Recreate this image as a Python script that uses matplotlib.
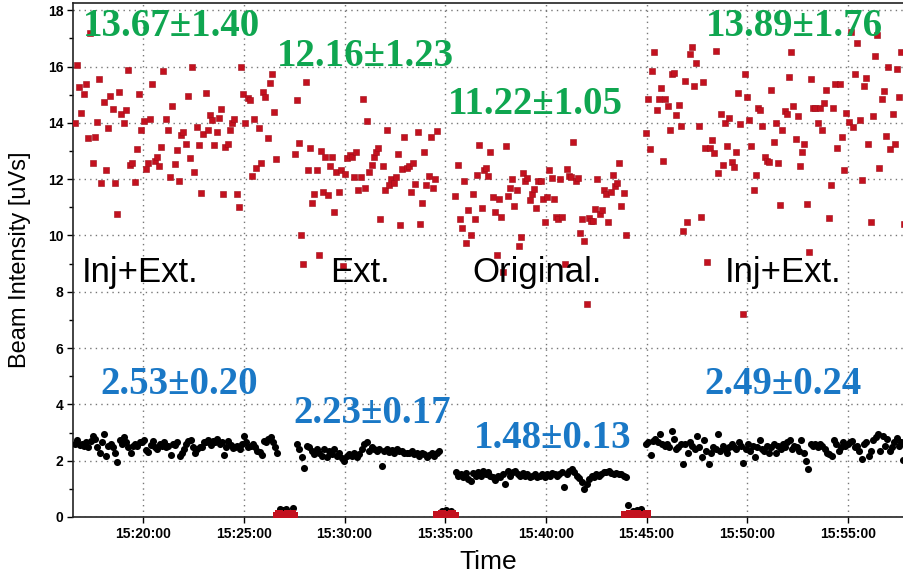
#!/usr/bin/env python3
import matplotlib
matplotlib.use("Agg")
import matplotlib.pyplot as plt
import numpy as np
from matplotlib.ticker import FixedLocator, FuncFormatter

# time axis: minutes after 15:00
red_seg1_span = (16.60, 26.61)
red_seg1 = [14.0, 16.06, 15.27, 14.35, 15.01, 15.39, 13.45, 17.2, 12.56, 13.5, 14.02, 15.54,
            11.88, 14.74, 12.33, 13.8, 14.94, 14.5, 11.86, 10.76, 15.09, 14.31, 14.01, 14.47,
            15.88, 12.5, 12.56, 11.89, 13.06, 15.04, 13.76, 14.07, 12.35, 12.59, 14.15, 15.39,
            12.64, 12.8, 12.48, 13.15, 15.84, 14.15, 13.74, 12.06, 14.59, 12.53, 13.04, 11.94,
            13.56, 13.68, 13.25, 14.94, 12.76, 15.98, 12.25, 13.86, 13.21, 11.51, 13.62, 15.07,
            13.76, 14.27, 14.09, 13.21, 13.68, 14.18, 14.48, 11.47, 13.15, 13.25, 13.74, 13.98,
            14.12, 11.49, 11.0, 15.98, 15.04, 13.98, 14.89, 14.8, 12.12, 14.15, 12.38, 13.8,
            12.56, 15.11, 14.92, 13.45, 15.41, 15.74, 14.39, 12.7]

red_seg2_span = (27.52, 34.61)
red_seg2 = [12.91, 14.82, 13.29, 10.01, 8.98, 15.44, 12.32, 13.11, 11.17, 11.46, 12.32, 9.31,
            12.99, 11.55, 12.78, 11.44, 12.46, 12.78, 10.84, 12.25, 11.54, 12.34, 8.91, 12.19,
            12.76, 12.85, 12.79, 12.08, 12.96, 11.61, 12.08, 14.84, 11.67, 14.05, 12.25, 12.52,
            12.77, 12.97, 13.09, 10.58, 12.47, 11.63, 13.75, 11.78, 12.0, 11.85, 12.06, 12.91,
            10.38, 12.36, 13.48, 12.4, 12.46, 11.55, 12.56, 11.81, 13.68, 10.39, 11.17, 12.98,
            11.78, 12.11, 13.48, 11.68, 11.99, 13.7]

red_seg3_span = (35.50, 43.97)
red_seg3 = [11.41, 12.52, 10.58, 10.27, 11.94, 9.74, 10.89, 10.01, 11.48, 10.58, 12.15, 13.22,
            10.98, 12.34, 12.38, 12.12, 12.95, 11.37, 10.82, 9.29, 11.31, 10.65, 8.69, 13.18,
            11.41, 11.68, 12.01, 11.04, 11.61, 9.62, 9.95, 12.22, 11.93, 12.05, 11.25, 11.46,
            11.64, 10.96, 11.95, 11.95, 11.28, 10.47, 11.38, 12.34, 12.05, 11.31, 10.64, 10.59,
            12.01, 10.67, 8.97, 12.36, 12.11, 12.07, 13.31, 11.93, 12.05, 10.09, 10.59, 9.79,
            7.56, 10.63, 10.53, 10.51, 10.95, 12.01, 10.75, 10.91, 11.6, 11.46, 10.47, 11.53,
            12.15, 11.75, 11.86, 12.59, 11.05, 11.51, 10.01]

red_seg4_span = (44.95, 57.77)
red_seg4 = [13.63, 14.83, 13.06, 15.83, 16.5, 14.46, 14.83, 15.23, 12.66, 14.83, 14.59, 13.73,
            15.74, 15.76, 14.28, 14.63, 13.89, 10.15, 15.49, 10.48, 16.45, 16.69, 15.32, 16.12,
            13.89, 10.64, 15.45, 13.12, 9.06, 13.12, 13.39, 12.92, 16.56, 12.22, 14.33, 12.49,
            14.01, 13.19, 14.18, 12.61, 12.43, 12.95, 15.06, 13.96, 7.22, 15.74, 14.9, 14.1,
            13.16, 11.62, 12.13, 14.53, 14.46, 13.89, 12.77, 12.65, 12.6, 15.17, 13.33, 13.99,
            12.59, 11.09, 13.76, 14.41, 14.31, 15.63, 16.5, 14.59, 13.42, 14.23, 12.46, 12.98,
            13.25, 11.12, 9.42, 15.56, 14.51, 14.51, 13.99, 14.51, 13.73, 14.7, 15.16, 10.62,
            11.78, 14.53, 15.39, 13.09, 15.39, 13.49, 12.33, 14.35, 14.03, 17.24, 13.86, 15.73,
            16.83, 14.09, 11.98, 15.32, 15.6, 13.26, 10.48, 14.26, 16.36, 17.13, 12.4, 14.86,
            15.12, 13.54, 16.0, 13.06, 14.33, 13.26, 15.92, 14.92, 16.53, 10.41]

# red readings while beam is off (near zero)
red_zero_spans = [(26.63, 27.49), (34.57, 35.48), (43.93, 45.00)]
red_zero = [[0.05, 0.1, 0.02, 0.08, 0.0, 0.1, 0.05, 0.12, 0.04],
            [0.06, 0.02, 0.1, 0.04, 0.08, 0.01, 0.09, 0.05],
            [0.08, 0.03, 0.1, 0.02, 0.06, 0.09, 0.01, 0.07, 0.04, 0.1]]

black_seg1_span = (16.61, 26.66)
black_seg1 = [2.59, 2.73, 2.56, 2.61, 2.53, 2.65, 2.47, 2.71, 2.88, 2.76, 2.47, 2.29, 2.65,
              2.96, 2.18, 2.53, 2.61, 2.49, 2.26, 1.96, 2.73, 2.59, 2.84, 2.68, 2.47, 2.26,
              2.53, 2.59, 2.53, 2.65, 2.65, 2.73, 2.38, 2.32, 2.56, 2.71, 2.47, 2.41, 2.59,
              2.53, 2.68, 2.47, 2.53, 2.21, 2.59, 2.56, 2.65, 2.18, 2.29, 2.41, 2.59, 2.71,
              2.73, 2.47, 2.29, 2.41, 2.49, 2.47, 2.68, 2.65, 2.73, 2.56, 2.71, 2.65, 2.76,
              2.59, 2.65, 2.21, 2.47, 2.71, 2.56, 2.44, 2.47, 2.53, 2.41, 2.61, 2.88, 2.68,
              2.47, 2.53, 2.59, 2.47, 2.35, 2.32, 2.21, 2.71, 2.65, 2.76, 2.84, 2.65, 2.47, 2.26]

black_seg2_span = (27.62, 34.71)
black_seg2 = [2.61, 2.41, 2.14, 1.73, 2.53, 2.47, 2.35, 2.24, 2.41, 2.29, 2.18, 2.41, 2.12,
              2.35, 2.24, 2.41, 2.18, 2.29, 2.09, 2.0, 2.18, 2.24, 2.18, 2.29, 2.12, 2.24,
              2.41, 2.59, 2.65, 2.35, 2.47, 2.41, 2.33, 2.41, 1.82, 2.35, 2.41, 2.32, 2.38,
              2.26, 2.41, 2.33, 2.35, 2.29, 2.29, 2.26, 2.33, 2.24, 2.29, 2.18, 2.29, 2.24,
              2.12, 2.21, 2.29, 2.18, 2.29, 2.33]

black_seg3_span = (35.53, 43.98)
black_seg3 = [1.59, 1.47, 1.53, 1.41, 1.55, 1.35, 1.29, 1.55, 1.47, 1.59, 1.47, 1.62, 1.51,
              1.59, 1.47, 1.41, 1.32, 1.47, 1.41, 1.53, 1.18, 1.65, 1.47, 1.59, 1.65, 1.53,
              1.47, 1.55, 1.44, 1.53, 1.41, 1.47, 1.53, 1.41, 1.47, 1.53, 1.41, 1.51, 1.47,
              1.55, 1.51, 1.47, 1.53, 1.59, 1.08, 1.53, 1.65, 1.71, 1.59, 1.47, 1.39, 1.24,
              1.0, 1.18, 1.35, 1.44, 1.41, 1.51, 1.47, 1.53, 1.59, 1.59, 1.65, 1.55, 1.53,
              1.55, 1.53, 1.51, 1.47, 1.41]

black_seg4_span = (44.97, 57.76)
black_seg4 = [2.59, 2.68, 2.21, 2.71, 2.76, 2.65, 2.94, 2.59, 2.53, 2.59, 2.47, 3.06, 2.76,
              2.41, 2.47, 2.59, 1.88, 2.61, 2.26, 2.65, 2.53, 2.41, 2.88, 2.47, 2.12, 2.73,
              2.35, 1.88, 2.29, 2.47, 2.41, 2.94, 2.35, 2.53, 2.41, 2.29, 2.47, 2.59, 2.47,
              2.41, 2.65, 2.53, 1.91, 2.41, 2.59, 2.35, 2.53, 2.14, 2.47, 2.73, 2.41, 2.35,
              2.53, 2.29, 2.47, 2.59, 2.29, 2.53, 2.41, 2.61, 2.47, 2.68, 2.73, 2.41, 2.53,
              2.47, 2.35, 2.73, 2.29, 2.0, 1.71, 2.59, 2.53, 2.61, 2.47, 2.59, 2.53, 2.41,
              2.29, 2.24, 2.18, 2.73, 2.59, 2.35, 2.47, 2.65, 2.53, 2.59, 2.65, 2.71, 2.47,
              2.53, 2.35, 2.06, 2.59, 2.65, 2.18, 2.35, 2.73, 2.84, 2.94, 2.35, 2.88, 2.53,
              2.76, 2.35, 2.47, 2.65, 2.82, 2.53, 2.65, 2.02]

# black readings while beam is off
black_zero_t = [26.79, 26.93, 27.09, 27.42, 34.85, 35.05, 35.3, 44.1, 44.31, 44.51, 44.71]
black_zero = [0.29, 0.24, 0.29, 0.32, 0.2, 0.24, 0.22, 0.41, 0.21, 0.24, 0.29]

ext_stats = ["13.67±1.40", "12.16±1.23", "11.22±1.05", "13.89±1.76"]
inj_stats = ["2.53±0.20", "2.23±0.17", "1.48±0.13", "2.49±0.24"]
modes = ["Inj+Ext.", "Ext.", "Original.", "Inj+Ext."]

# label anchor positions (time in minutes, value)
ext_pos = [(21.42, 17.43), (31.01, 16.37), (39.5, 14.66), (52.32, 17.43)]
inj_pos = [(21.77, 4.69), (31.36, 3.66), (40.35, 2.80), (51.78, 4.69)]
mode_pos = [(19.84, 8.7), (30.77, 8.7), (39.56, 8.7), (51.78, 8.7)]

RED = "#c3111f"
GREEN = "#0fa650"
BLUE = "#1a78c6"


def seg_times(span, vals):
    return np.linspace(span[0], span[1], len(vals))


def main() -> None:
    plt.rcParams["font.family"] = ["Liberation Sans", "DejaVu Sans"]
    fig = plt.figure(figsize=(9.04, 5.77), dpi=100)
    ax = fig.add_axes([0.0808, 0.104, 0.9195, 0.890])

    ax.grid(True, which="major", linestyle=(0, (1, 3)), color="#777777", linewidth=1.0)
    ax.set_axisbelow(True)

    for span, vals in [(red_seg1_span, red_seg1), (red_seg2_span, red_seg2),
                       (red_seg3_span, red_seg3), (red_seg4_span, red_seg4)]:
        ax.scatter(seg_times(span, vals), vals, marker="s", s=22, color=RED,
                   edgecolors="#a00d18", linewidths=0.4, zorder=3)

    for span, vals in [(black_seg1_span, black_seg1), (black_seg2_span, black_seg2),
                       (black_seg3_span, black_seg3), (black_seg4_span, black_seg4)]:
        ax.scatter(seg_times(span, vals), vals, marker="o", s=26, color="black",
                   linewidths=0, zorder=3)
    ax.scatter(black_zero_t, black_zero, marker="o", s=26, color="black", linewidths=0, zorder=3)

    for span, vals in zip(red_zero_spans, red_zero):
        ax.scatter(seg_times(span, vals), vals, marker="s", s=28, color=RED,
                   linewidths=0, zorder=4)

    for txt, (x, y) in zip(ext_stats, ext_pos):
        ax.text(x, y, txt, color=GREEN, fontsize=28, fontweight="bold",
                family="Liberation Serif", ha="center", va="center", zorder=5)
    for txt, (x, y) in zip(inj_stats, inj_pos):
        ax.text(x, y, txt, color=BLUE, fontsize=28, fontweight="bold",
                family="Liberation Serif", ha="center", va="center", zorder=5)
    for txt, (x, y) in zip(modes, mode_pos):
        ax.text(x, y, txt, color="black", fontsize=25, ha="center", va="center", zorder=5)

    ax.set_xlim(16.51, 57.8)
    ax.set_ylim(0, 18.24)
    ax.xaxis.set_major_locator(FixedLocator([20, 25, 30, 35, 40, 45, 50, 55]))
    ax.xaxis.set_major_formatter(FuncFormatter(lambda v, p: "15:%02d:00" % int(round(v))))
    ax.yaxis.set_major_locator(FixedLocator(np.arange(0, 19, 2)))
    ax.yaxis.set_minor_locator(FixedLocator(np.arange(1, 19, 2)))
    ax.tick_params(axis="both", which="major", labelsize=10, length=4, width=1,
                   direction="out", pad=3)
    ax.tick_params(axis="y", which="minor", length=3, width=1, direction="out")
    for lab in ax.get_xticklabels() + ax.get_yticklabels():
        lab.set_fontweight("bold")

    for side in ["top", "left", "bottom"]:
        ax.spines[side].set_color("#222222")
        ax.spines[side].set_linewidth(1.2)
    ax.spines["right"].set_visible(False)

    ax.set_ylabel("Beam Intensity [uVs]", fontsize=17, labelpad=12)
    ax.set_xlabel("Time", fontsize=19, labelpad=7)

    fig.savefig("out.png", dpi=100)
    plt.close(fig)


if __name__ == "__main__":
    main()
